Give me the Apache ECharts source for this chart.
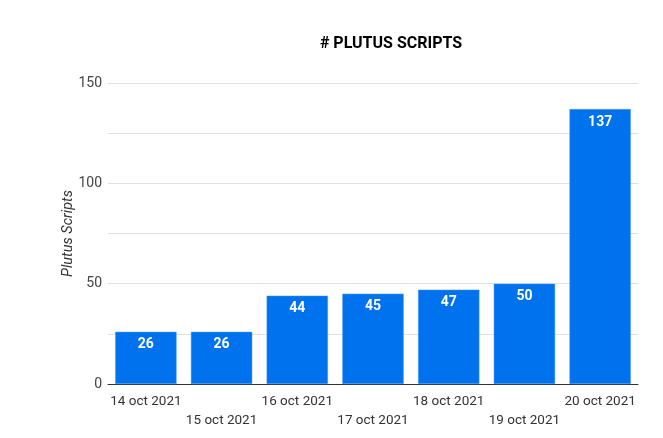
<!DOCTYPE html>
<html>
<head>
<meta charset="utf-8">
<script src="https://cdn.jsdelivr.net/npm/echarts@6/dist/echarts.min.js"></script>
<style>
  html, body { margin: 0; padding: 0; background: #fff; }
  #chart { width: 663px; height: 438px; }
</style>
</head>
<body>
<div id="chart"></div>
<script>
const categories = ['14 oct 2021', '15 oct 2021', '16 oct 2021', '17 oct 2021', '18 oct 2021', '19 oct 2021', '20 oct 2021']
const scripts = [26, 26, 44, 45, 47, 50, 137]
const yTicks = [0, 50, 100, 150]

const chart = echarts.init(document.getElementById('chart'), null, { renderer: 'canvas' })

chart.setOption({
  backgroundColor: '#fff',
  textStyle: { fontFamily: 'Roboto' },
  title: {
    text: '# PLUTUS SCRIPTS',
    left: 386,
    top: 31,
    textAlign: 'center',
    textStyle: { fontSize: 16, fontWeight: 'bold', color: '#000', fontFamily: 'Roboto' }
  },
  grid: { left: 108, right: 25, top: 83, bottom: 54 },
  xAxis: {
    type: 'category',
    data: categories,
    axisTick: { show: false },
    axisLine: { lineStyle: { color: '#333', width: 1 } },
    axisLabel: {
      interval: 0,
      color: '#333',
      fontSize: 13.5,
      margin: 8,
      lineHeight: 19,
      formatter: (v, i) => (i % 2 ? '\n' + v : v)
    }
  },
  yAxis: {
    type: 'value',
    min: 0,
    max: 150,
    interval: 25,
    name: 'Plutus Scripts',
    nameLocation: 'middle',
    nameGap: 32,
    nameMoveOverlap: false,
    nameTextStyle: { fontStyle: 'italic', fontSize: 14.5, color: '#333' },
    axisLine: { show: false },
    axisTick: { show: false },
    axisLabel: {
      color: '#444',
      fontSize: 14,
      margin: 6,
      formatter: v => (yTicks.includes(v) ? String(v) : '')
    },
    splitLine: { lineStyle: { color: '#e0e0e0', width: 1 } }
  },
  series: [{
    type: 'bar',
    data: scripts,
    barCategoryGap: '19%',
    itemStyle: { color: '#0072ee', borderColor: '#4a98f2', borderWidth: 0.5 },
    label: {
      show: true,
      position: 'insideTop',
      distance: 6,
      color: '#fff',
      fontWeight: 'bold',
      fontSize: 14
    }
  }]
})
</script>
</body>
</html>
